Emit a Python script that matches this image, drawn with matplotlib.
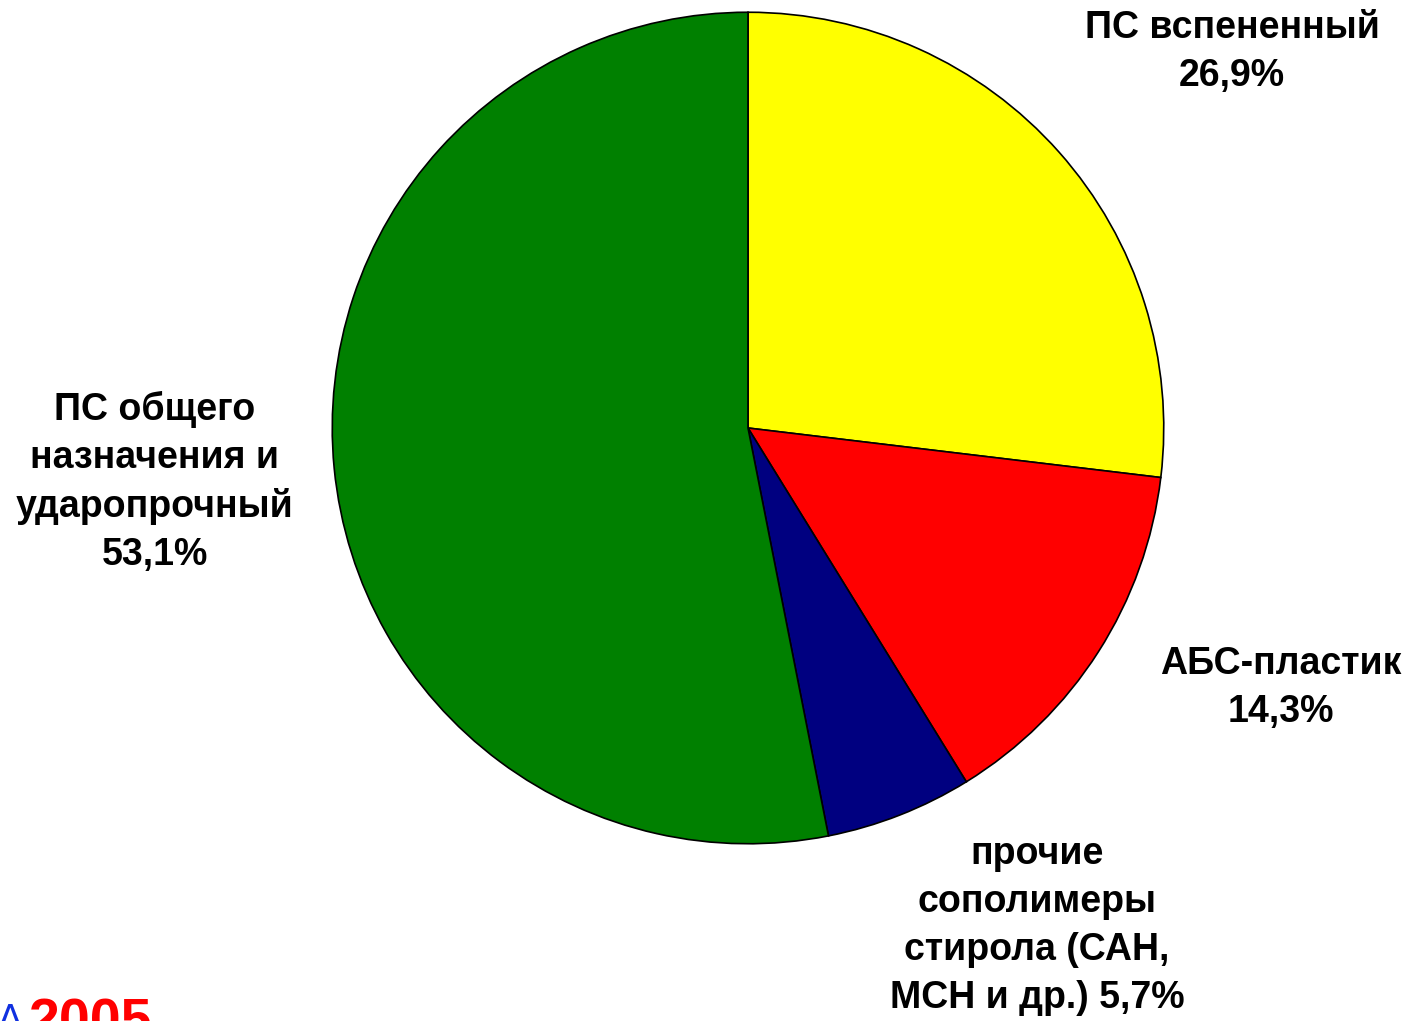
import matplotlib
matplotlib.use("Agg")
import matplotlib.pyplot as plt

categories = ["ПС вспененный", "АБС-пластик", "прочие сополимеры стирола (САН, МСН и др.)",
              "ПС общего назначения и ударопрочный"]
values = [26.9, 14.3, 5.7, 53.1]
labels = ["ПС вспененный\n26,9%", "АБС-пластик\n14,3%",
          "прочие\nсополимеры\nстирола (САН,\nМСН и др.) 5,7%",
          "ПС общего\nназначения и\nударопрочный\n53,1%"]
colors = ["#FFFF00", "#FF0000", "#000080", "#008000"]

W, H = 1411, 1021
fig = plt.figure(figsize=(W / 100, H / 100), dpi=100)
fig.patch.set_facecolor("white")

cx, cy, r = 748, 428, 417
ax = fig.add_axes([(cx - r) / W, (H - cy - r) / H, 2 * r / W, 2 * r / H])
ax.pie(values, colors=colors, startangle=90, counterclock=False, radius=1,
       wedgeprops=dict(edgecolor="black", linewidth=1.2))
ax.set_xlim(-1.003, 1.003)
ax.set_ylim(-1.003, 1.003)
ax.set_aspect("equal")
ax.axis("off")

font = dict(family=["Liberation Sans", "DejaVu Sans"], fontweight="bold", fontsize=27,
            ha="center", va="center", linespacing=1.42)
label_pos = [(1232, 52), (1281, 688), (1037, 926), (155, 482)]
for lab, (x, y) in zip(labels, label_pos):
    fig.text(x / W, 1 - y / H, lab, **font)

# partial logo at bottom-left (cut off by the figure edge, as in the reference)
fig.text(28 / W, 1 - 1038 / H, "2005", color="#FF0000", fontsize=40, fontweight="bold",
         family=["Liberation Sans"], ha="left", va="baseline")
fig.text(-2 / W, 1 - 1030 / H, "Λ", color="#1030E0", fontsize=26,
         family=["DejaVu Sans"], ha="left", va="baseline")

fig.savefig("out.png", dpi=100, facecolor="white")
